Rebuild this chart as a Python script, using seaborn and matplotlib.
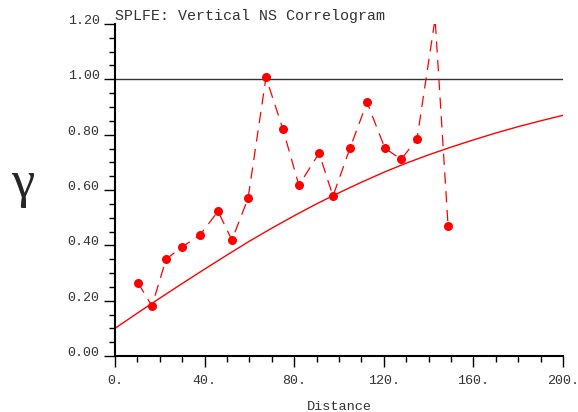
import numpy as np
import pandas as pd
import seaborn as sns
import matplotlib.pyplot as plt
from matplotlib.ticker import MultipleLocator, FuncFormatter

# experimental correlogram points (lag distance, gamma)
lag = [10.3, 16.5, 22.8, 29.9, 37.9, 46.0, 52.2, 59.4, 67.4, 75.0,
       82.1, 91.1, 97.3, 104.9, 112.5, 120.5, 127.7, 134.8, 142.9, 148.7]
gamma = [0.264, 0.181, 0.350, 0.394, 0.437, 0.523, 0.419, 0.570, 1.007, 0.819,
         0.617, 0.733, 0.578, 0.751, 0.917, 0.751, 0.711, 0.783, 1.22, 0.469]

# fitted model curve
model_x = [0, 10, 20, 30, 40, 50, 60, 70, 80, 90, 100,
           110, 120, 130, 140, 150, 160, 170, 180, 190, 200]
model_y = [0.100, 0.155, 0.209, 0.262, 0.314, 0.365, 0.415, 0.462, 0.507, 0.550, 0.590,
           0.628, 0.664, 0.697, 0.727, 0.755, 0.781, 0.806, 0.829, 0.850, 0.870]

sill = 1.0

sns.set_style('ticks')
plt.rcParams['font.family'] = ['Liberation Mono', 'DejaVu Sans Mono']

fig = plt.figure(figsize=(5.78, 4.12), dpi=100)
ax = fig.add_axes([115/578, 1 - 356/412, 448/578, 332/412])

pontos = pd.DataFrame({'lag': lag, 'gamma': gamma})
modelo = pd.DataFrame({'x': model_x, 'y': model_y})

ax.axhline(sill, color='#333333', lw=1.0, zorder=1)
sns.lineplot(data=modelo, x='x', y='y', ax=ax, color='#ff0000', lw=1.0, zorder=2)
sns.lineplot(data=pontos, x='lag', y='gamma', ax=ax, color='#ff0000', lw=0.9,
             linestyle=(0, (9, 6)), marker='o', markersize=6.5,
             markeredgewidth=0, zorder=3)

ax.set_xlim(0, 200)
ax.set_ylim(0, 1.2)
ax.xaxis.set_major_locator(MultipleLocator(40))
ax.xaxis.set_minor_locator(MultipleLocator(10))
ax.yaxis.set_major_locator(MultipleLocator(0.2))
ax.yaxis.set_minor_locator(MultipleLocator(0.05))
ax.xaxis.set_major_formatter(FuncFormatter(lambda v, p: '%d.' % round(v)))
ax.yaxis.set_major_formatter(FuncFormatter(lambda v, p: '%.2f' % v))

sns.despine(ax=ax)
for s in ['left', 'bottom']:
    ax.spines[s].set_linewidth(1.5)
    ax.spines[s].set_color('black')
ax.tick_params(which='major', length=8, width=1, color='black', labelsize=9.6,
               labelcolor='#333333')
ax.tick_params(which='minor', length=4.5, width=1, color='black')
ax.tick_params(axis='x', which='major', pad=6)
ax.tick_params(axis='y', which='major', pad=3)
for lb in ax.get_yticklabels():
    lb.set_verticalalignment('baseline')

ax.set_xlabel('Distance', fontsize=9.7, color='#333333', labelpad=10)
ax.set_ylabel('')
ax.text(0.0, 1.2 + 0.003, 'SPLFE: Vertical NS Correlogram', fontsize=10.8,
        color='#333333', ha='left', va='bottom', transform=ax.transData)
fig.text(23/578, 1 - 184/412, 'γ', fontsize=38, family='Liberation Serif',
         ha='center', va='center')

fig.savefig('out.png', dpi=100)
